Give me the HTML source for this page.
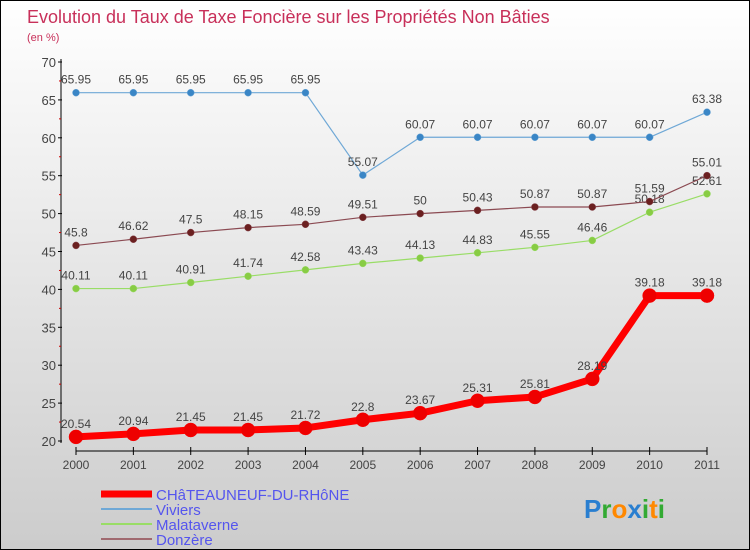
<!DOCTYPE html>
<html><head><meta charset="utf-8"><style>
body{margin:0}
#wrap{width:750px;height:550px;position:relative;overflow:hidden;font-family:"Liberation Sans",sans-serif;background:linear-gradient(#ffffff,#cccccc);box-sizing:border-box;border:1px solid #000}
</style></head><body>
<div id="wrap">
<svg id="c" width="750" height="550" style="position:absolute;left:0;top:0"></svg>
</div>
<script>
const years=["2000","2001","2002","2003","2004","2005","2006","2007","2008","2009","2010","2011"];
const yTicks=[20,25,30,35,40,45,50,55,60,65,70];
const chateau=[20.54,20.94,21.45,21.45,21.72,22.8,23.67,25.31,25.81,28.19,39.18,39.18];
const viviers=[65.95,65.95,65.95,65.95,65.95,55.07,60.07,60.07,60.07,60.07,60.07,63.38];
const malat=[40.11,40.11,40.91,41.74,42.58,43.43,44.13,44.83,45.55,46.46,50.18,52.61];
const donzere=[45.8,46.62,47.5,48.15,48.59,49.51,50,50.43,50.87,50.87,51.59,55.01];
const svg=document.getElementById('c');const NS='http://www.w3.org/2000/svg';
function X(i){return 75+i*(706-75)/(years.length-1);}
function Y(v){return 440-(v-20)*(440-61)/50;}
function mk(t,a,p){const e=document.createElementNS(NS,t);for(const k in a)e.setAttribute(k,a[k]);(p||svg).appendChild(e);return e;}
function txt(x,y,s,a,sz,fill,anchor){const e=mk('text',Object.assign({x:x,y:y,'font-size':sz,fill:fill,'text-anchor':anchor||'middle'},a||{}));e.textContent=s;return e;}
let t=txt(26,22,"Evolution du Taux de Taxe Foncière sur les Propriétés Non Bâties",{},18,'#c8305a','start');


t=txt(26,40,"(en %)",{},11,'#c8305a','start');


let ax=mk('line',{x1:60,y1:58,x2:60,y2:442,stroke:'#000','stroke-width':1});


yTicks.forEach(v=>{mk('line',{x1:57,y1:Y(v),x2:61,y2:Y(v),stroke:'#000'});
 if(v<70)mk('line',{x1:58,y1:Y(v+2.5),x2:60,y2:Y(v+2.5),stroke:'#c00'});
 const e=txt(55,Y(v)+5,String(v),{},13,'#444','end');
 
 });
ax=mk('line',{x1:75,y1:450,x2:706,y2:450,stroke:'#000','stroke-width':1});


years.forEach((y,i)=>{mk('line',{x1:X(i),y1:446,x2:X(i),y2:454,stroke:'#000'});
 const e=txt(X(i),468,y,{},12,'#444');
 
 });
function series(d,name,col,lw,r,dotCol,lblOff){const g=mk('g',{});
 
 
 mk('polyline',{points:d.map((v,i)=>X(i)+','+Y(v)).join(' '),fill:'none',stroke:col,'stroke-width':lw,'stroke-linejoin':'round'},g);
 d.forEach((v,i)=>{const c=mk('circle',{cx:X(i),cy:Y(v),r:r,fill:dotCol,stroke:col,'stroke-width':0.5},g);
  
  
  const l=txt(X(i),Y(v)+lblOff,String(v),{},12,'#444',undefined);g.appendChild(l);
  
  });}
series(malat,'malataverne-series','#99dd66',1.2,3.5,'#88cc44',-9);
series(donzere,'donzere-series','#8b4a52',1.2,3.5,'#6b2020',-9);
series(viviers,'viviers-series','#6fa8d6',1.2,3.5,'#3a86c6',-9);
series(chateau,'chateauneuf-series','#ff0000',7,7,'#ee0000',-9);
const leg=[["CHâTEAUNEUF-DU-RHôNE","#ff0000",7],["Viviers","#6fa8d6",2],["Malataverne","#99dd66",2],["Donzère","#a06a70",2]];
leg.forEach((l,i)=>{const y=493+i*15;
 const g=mk('g',{});
 
 
 mk('line',{x1:100,y1:y,x2:151,y2:y,stroke:l[1],'stroke-width':l[2]},g);
 const e=txt(155,y+6,l[0],{},15,'#5555ee','start');g.appendChild(e);});
const logo=mk('text',{x:583,y:517,'font-size':26,'font-family':'"Liberation Sans",sans-serif','font-weight':'bold'});


[["P","#2a7fd0"],["r","#33aa33"],["o","#ff8800"],["x","#2a7fd0"],["i","#33aa33"],["t","#ff8800"],["i","#33aa33"]].forEach(p=>{const s=mk('tspan',{fill:p[1]},logo);s.textContent=p[0];});
</script>
</body></html>
